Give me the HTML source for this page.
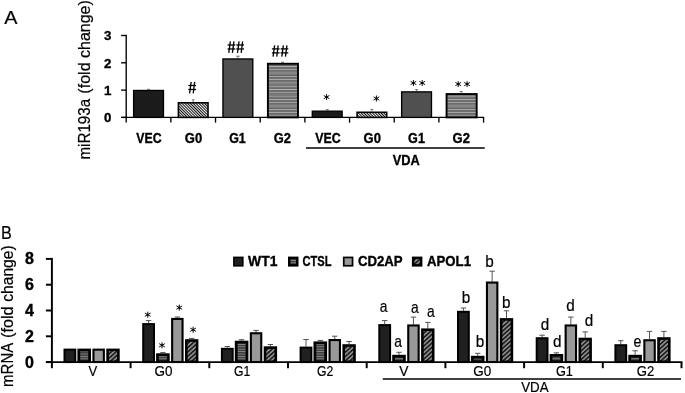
<!DOCTYPE html>
<html><head><meta charset="utf-8"><title>Figure</title>
<style>
html,body{margin:0;padding:0;background:#fff;}
svg{display:block;will-change:transform;}
text{font-family:"Liberation Sans",sans-serif;fill:#000;}
</style></head>
<body>
<svg width="685" height="393" viewBox="0 0 685 393">
<rect width="685" height="393" fill="#fff"/>
<defs>
<pattern id="pFine" width="2" height="2" patternUnits="userSpaceOnUse" patternTransform="rotate(45)"><rect width="2" height="2" fill="#fff"/><rect width="2" height="1.05" fill="#111"/></pattern>
<pattern id="pHA" width="3.3" height="3.3" patternUnits="userSpaceOnUse"><rect width="3.3" height="3.3" fill="#666"/><rect y="0" width="3.3" height="0.85" fill="#b4b4b4"/><rect y="1.7" width="3.3" height="0.6" fill="#828282"/></pattern>
<pattern id="pHB" width="2.4" height="2.4" patternUnits="userSpaceOnUse"><rect width="2.4" height="2.4" fill="#111"/><rect y="0.5" width="2.4" height="1.4" fill="#8a8a8a"/></pattern>
<pattern id="pDB" width="3.2" height="3.2" patternUnits="userSpaceOnUse" patternTransform="rotate(-42)"><rect width="3.2" height="3.2" fill="#151515"/><rect y="0.7" width="3.2" height="1.7" fill="#8c8c8c"/></pattern>
</defs>
<text x="4.30" y="24.00" font-size="18.6" stroke="#000" stroke-width="0.2" text-anchor="start" textLength="13.20" lengthAdjust="spacingAndGlyphs" >A</text>
<text transform="translate(90,159.50) rotate(-90)" font-size="16" stroke="#000" stroke-width="0.2" textLength="60.60" lengthAdjust="spacingAndGlyphs">miR193a</text>
<text transform="translate(90,93.70) rotate(-90)" font-size="16" stroke="#000" stroke-width="0.2" textLength="31.30" lengthAdjust="spacingAndGlyphs">(fold</text>
<text transform="translate(90,58.00) rotate(-90)" font-size="16" stroke="#000" stroke-width="0.2" textLength="57.80" lengthAdjust="spacingAndGlyphs">change)</text>
<line x1="126.20" y1="34.83" x2="126.20" y2="122.60" stroke="#000" stroke-width="1.35" stroke-linecap="butt"/>
<line x1="121.10" y1="117.40" x2="484.24" y2="117.40" stroke="#000" stroke-width="1.35" stroke-linecap="butt"/>
<line x1="121.10" y1="117.40" x2="126.20" y2="117.40" stroke="#000" stroke-width="1.35" stroke-linecap="butt"/>
<text x="111.30" y="122.10" font-size="13.3" font-weight="bold" stroke="#000" stroke-width="0.35" text-anchor="end" >0</text>
<line x1="121.10" y1="90.10" x2="126.20" y2="90.10" stroke="#000" stroke-width="1.35" stroke-linecap="butt"/>
<text x="111.30" y="94.80" font-size="13.3" font-weight="bold" stroke="#000" stroke-width="0.35" text-anchor="end" >1</text>
<line x1="121.10" y1="62.80" x2="126.20" y2="62.80" stroke="#000" stroke-width="1.35" stroke-linecap="butt"/>
<text x="111.30" y="67.50" font-size="13.3" font-weight="bold" stroke="#000" stroke-width="0.35" text-anchor="end" >2</text>
<line x1="121.10" y1="35.50" x2="126.20" y2="35.50" stroke="#000" stroke-width="1.35" stroke-linecap="butt"/>
<text x="111.30" y="40.20" font-size="13.3" font-weight="bold" stroke="#000" stroke-width="0.35" text-anchor="end" >3</text>
<line x1="170.87" y1="117.40" x2="170.87" y2="122.60" stroke="#000" stroke-width="1.35" stroke-linecap="butt"/>
<line x1="215.54" y1="117.40" x2="215.54" y2="122.60" stroke="#000" stroke-width="1.35" stroke-linecap="butt"/>
<line x1="260.21" y1="117.40" x2="260.21" y2="122.60" stroke="#000" stroke-width="1.35" stroke-linecap="butt"/>
<line x1="304.88" y1="117.40" x2="304.88" y2="122.60" stroke="#000" stroke-width="1.35" stroke-linecap="butt"/>
<line x1="349.55" y1="117.40" x2="349.55" y2="122.60" stroke="#000" stroke-width="1.35" stroke-linecap="butt"/>
<line x1="394.22" y1="117.40" x2="394.22" y2="122.60" stroke="#000" stroke-width="1.35" stroke-linecap="butt"/>
<line x1="438.89" y1="117.40" x2="438.89" y2="122.60" stroke="#000" stroke-width="1.35" stroke-linecap="butt"/>
<line x1="483.56" y1="117.40" x2="483.56" y2="122.60" stroke="#000" stroke-width="1.35" stroke-linecap="butt"/>
<line x1="148.53" y1="89.30" x2="148.53" y2="89.80" stroke="#6a6a6a" stroke-width="0.9" stroke-linecap="butt"/>
<line x1="147.03" y1="89.30" x2="150.03" y2="89.30" stroke="#6a6a6a" stroke-width="0.9" stroke-linecap="butt"/>
<rect x="133.61" y="90.47" width="29.85" height="26.93" fill="#1b1b1b" stroke="#000" stroke-width="1.35"/>
<line x1="193.20" y1="99.80" x2="193.20" y2="102.00" stroke="#6a6a6a" stroke-width="0.9" stroke-linecap="butt"/>
<line x1="191.90" y1="99.80" x2="194.50" y2="99.80" stroke="#6a6a6a" stroke-width="0.9" stroke-linecap="butt"/>
<rect x="178.38" y="102.78" width="29.65" height="14.63" fill="url(#pFine)" stroke="#000" stroke-width="1.55"/>
<line x1="237.88" y1="56.20" x2="237.88" y2="58.30" stroke="#6a6a6a" stroke-width="0.9" stroke-linecap="butt"/>
<line x1="236.07" y1="56.20" x2="239.68" y2="56.20" stroke="#6a6a6a" stroke-width="0.9" stroke-linecap="butt"/>
<rect x="222.95" y="58.97" width="29.85" height="58.43" fill="#505050" stroke="#000" stroke-width="1.35"/>
<line x1="282.55" y1="62.20" x2="282.55" y2="62.80" stroke="#6a6a6a" stroke-width="0.9" stroke-linecap="butt"/>
<line x1="281.05" y1="62.20" x2="284.05" y2="62.20" stroke="#6a6a6a" stroke-width="0.9" stroke-linecap="butt"/>
<rect x="267.89" y="63.75" width="30.10" height="53.65" fill="url(#pHA)" stroke="#000" stroke-width="1.9"/>
<line x1="327.22" y1="109.60" x2="327.22" y2="110.50" stroke="#6a6a6a" stroke-width="0.9" stroke-linecap="butt"/>
<line x1="325.72" y1="109.60" x2="328.72" y2="109.60" stroke="#6a6a6a" stroke-width="0.9" stroke-linecap="butt"/>
<rect x="312.29" y="111.17" width="29.85" height="6.23" fill="#1b1b1b" stroke="#000" stroke-width="1.35"/>
<line x1="371.88" y1="109.40" x2="371.88" y2="111.50" stroke="#6a6a6a" stroke-width="0.9" stroke-linecap="butt"/>
<line x1="370.38" y1="109.40" x2="373.38" y2="109.40" stroke="#6a6a6a" stroke-width="0.9" stroke-linecap="butt"/>
<rect x="357.06" y="112.28" width="29.65" height="5.13" fill="url(#pFine)" stroke="#000" stroke-width="1.55"/>
<line x1="416.56" y1="89.60" x2="416.56" y2="91.20" stroke="#6a6a6a" stroke-width="0.9" stroke-linecap="butt"/>
<line x1="415.06" y1="89.60" x2="418.06" y2="89.60" stroke="#6a6a6a" stroke-width="0.9" stroke-linecap="butt"/>
<rect x="401.63" y="91.88" width="29.85" height="25.53" fill="#505050" stroke="#000" stroke-width="1.35"/>
<line x1="461.23" y1="91.50" x2="461.23" y2="93.10" stroke="#6a6a6a" stroke-width="0.9" stroke-linecap="butt"/>
<line x1="459.73" y1="91.50" x2="462.73" y2="91.50" stroke="#6a6a6a" stroke-width="0.9" stroke-linecap="butt"/>
<rect x="446.57" y="94.05" width="30.10" height="23.35" fill="url(#pHA)" stroke="#000" stroke-width="1.9"/>
<text x="136.30" y="142.50" font-size="14" font-weight="bold" stroke="#000" stroke-width="0.35" text-anchor="start" textLength="25.20" lengthAdjust="spacingAndGlyphs" >VEC</text>
<text x="184.80" y="142.50" font-size="14" font-weight="bold" stroke="#000" stroke-width="0.35" text-anchor="start" textLength="17.40" lengthAdjust="spacingAndGlyphs" >G0</text>
<text x="229.20" y="142.50" font-size="14" font-weight="bold" stroke="#000" stroke-width="0.35" text-anchor="start" textLength="16.60" lengthAdjust="spacingAndGlyphs" >G1</text>
<text x="273.70" y="142.50" font-size="14" font-weight="bold" stroke="#000" stroke-width="0.35" text-anchor="start" textLength="17.20" lengthAdjust="spacingAndGlyphs" >G2</text>
<text x="315.20" y="142.50" font-size="14" font-weight="bold" stroke="#000" stroke-width="0.35" text-anchor="start" textLength="25.40" lengthAdjust="spacingAndGlyphs" >VEC</text>
<text x="363.60" y="142.50" font-size="14" font-weight="bold" stroke="#000" stroke-width="0.35" text-anchor="start" textLength="17.40" lengthAdjust="spacingAndGlyphs" >G0</text>
<text x="408.10" y="142.50" font-size="14" font-weight="bold" stroke="#000" stroke-width="0.35" text-anchor="start" textLength="16.80" lengthAdjust="spacingAndGlyphs" >G1</text>
<text x="452.50" y="142.50" font-size="14" font-weight="bold" stroke="#000" stroke-width="0.35" text-anchor="start" textLength="17.40" lengthAdjust="spacingAndGlyphs" >G2</text>
<line x1="306.00" y1="148.10" x2="484.70" y2="148.10" stroke="#000" stroke-width="1.5" stroke-linecap="butt"/>
<text x="392.70" y="165.10" font-size="14" font-weight="bold" stroke="#000" stroke-width="0.35" text-anchor="start" textLength="27.00" lengthAdjust="spacingAndGlyphs" >VDA</text>
<line x1="188.40" y1="85.49" x2="196.10" y2="85.49" stroke="#000" stroke-width="1.3" stroke-linecap="butt"/>
<line x1="188.40" y1="89.48" x2="196.10" y2="89.48" stroke="#000" stroke-width="1.3" stroke-linecap="butt"/>
<line x1="191.15" y1="81.90" x2="189.60" y2="93.30" stroke="#000" stroke-width="1.3" stroke-linecap="butt"/>
<line x1="194.70" y1="81.90" x2="193.25" y2="93.30" stroke="#000" stroke-width="1.3" stroke-linecap="butt"/>
<line x1="227.60" y1="44.99" x2="235.30" y2="44.99" stroke="#000" stroke-width="1.3" stroke-linecap="butt"/>
<line x1="227.60" y1="48.98" x2="235.30" y2="48.98" stroke="#000" stroke-width="1.3" stroke-linecap="butt"/>
<line x1="230.35" y1="41.40" x2="228.80" y2="52.80" stroke="#000" stroke-width="1.3" stroke-linecap="butt"/>
<line x1="233.90" y1="41.40" x2="232.45" y2="52.80" stroke="#000" stroke-width="1.3" stroke-linecap="butt"/>
<line x1="236.30" y1="44.99" x2="244.00" y2="44.99" stroke="#000" stroke-width="1.3" stroke-linecap="butt"/>
<line x1="236.30" y1="48.98" x2="244.00" y2="48.98" stroke="#000" stroke-width="1.3" stroke-linecap="butt"/>
<line x1="239.05" y1="41.40" x2="237.50" y2="52.80" stroke="#000" stroke-width="1.3" stroke-linecap="butt"/>
<line x1="242.60" y1="41.40" x2="241.15" y2="52.80" stroke="#000" stroke-width="1.3" stroke-linecap="butt"/>
<line x1="271.90" y1="48.89" x2="279.60" y2="48.89" stroke="#000" stroke-width="1.3" stroke-linecap="butt"/>
<line x1="271.90" y1="52.88" x2="279.60" y2="52.88" stroke="#000" stroke-width="1.3" stroke-linecap="butt"/>
<line x1="274.65" y1="45.30" x2="273.10" y2="56.70" stroke="#000" stroke-width="1.3" stroke-linecap="butt"/>
<line x1="278.20" y1="45.30" x2="276.75" y2="56.70" stroke="#000" stroke-width="1.3" stroke-linecap="butt"/>
<line x1="280.60" y1="48.89" x2="288.30" y2="48.89" stroke="#000" stroke-width="1.3" stroke-linecap="butt"/>
<line x1="280.60" y1="52.88" x2="288.30" y2="52.88" stroke="#000" stroke-width="1.3" stroke-linecap="butt"/>
<line x1="283.35" y1="45.30" x2="281.80" y2="56.70" stroke="#000" stroke-width="1.3" stroke-linecap="butt"/>
<line x1="286.90" y1="45.30" x2="285.45" y2="56.70" stroke="#000" stroke-width="1.3" stroke-linecap="butt"/>
<line x1="326.60" y1="94.49" x2="326.60" y2="99.71" stroke="#000" stroke-width="0.95" stroke-linecap="round"/>
<line x1="324.09" y1="95.65" x2="329.11" y2="98.55" stroke="#000" stroke-width="0.95" stroke-linecap="round"/>
<line x1="329.11" y1="95.65" x2="324.09" y2="98.55" stroke="#000" stroke-width="0.95" stroke-linecap="round"/>
<circle cx="326.60" cy="97.10" r="1.05" fill="#000"/>
<line x1="376.40" y1="95.89" x2="376.40" y2="101.11" stroke="#000" stroke-width="0.95" stroke-linecap="round"/>
<line x1="373.89" y1="97.05" x2="378.91" y2="99.95" stroke="#000" stroke-width="0.95" stroke-linecap="round"/>
<line x1="378.91" y1="97.05" x2="373.89" y2="99.95" stroke="#000" stroke-width="0.95" stroke-linecap="round"/>
<circle cx="376.40" cy="98.50" r="1.05" fill="#000"/>
<line x1="413.40" y1="80.39" x2="413.40" y2="85.61" stroke="#000" stroke-width="0.95" stroke-linecap="round"/>
<line x1="410.89" y1="81.55" x2="415.91" y2="84.45" stroke="#000" stroke-width="0.95" stroke-linecap="round"/>
<line x1="415.91" y1="81.55" x2="410.89" y2="84.45" stroke="#000" stroke-width="0.95" stroke-linecap="round"/>
<circle cx="413.40" cy="83.00" r="1.05" fill="#000"/>
<line x1="422.20" y1="80.39" x2="422.20" y2="85.61" stroke="#000" stroke-width="0.95" stroke-linecap="round"/>
<line x1="419.69" y1="81.55" x2="424.71" y2="84.45" stroke="#000" stroke-width="0.95" stroke-linecap="round"/>
<line x1="424.71" y1="81.55" x2="419.69" y2="84.45" stroke="#000" stroke-width="0.95" stroke-linecap="round"/>
<circle cx="422.20" cy="83.00" r="1.05" fill="#000"/>
<line x1="458.20" y1="81.49" x2="458.20" y2="86.71" stroke="#000" stroke-width="0.95" stroke-linecap="round"/>
<line x1="455.69" y1="82.65" x2="460.71" y2="85.55" stroke="#000" stroke-width="0.95" stroke-linecap="round"/>
<line x1="460.71" y1="82.65" x2="455.69" y2="85.55" stroke="#000" stroke-width="0.95" stroke-linecap="round"/>
<circle cx="458.20" cy="84.10" r="1.05" fill="#000"/>
<line x1="467.10" y1="81.49" x2="467.10" y2="86.71" stroke="#000" stroke-width="0.95" stroke-linecap="round"/>
<line x1="464.59" y1="82.65" x2="469.61" y2="85.55" stroke="#000" stroke-width="0.95" stroke-linecap="round"/>
<line x1="469.61" y1="82.65" x2="464.59" y2="85.55" stroke="#000" stroke-width="0.95" stroke-linecap="round"/>
<circle cx="467.10" cy="84.10" r="1.05" fill="#000"/>
<text x="1.00" y="239.30" font-size="18" stroke="#000" stroke-width="0.2" text-anchor="start" textLength="10.80" lengthAdjust="spacingAndGlyphs" >B</text>
<text transform="translate(13.1,386.90) rotate(-90)" font-size="15.6" stroke="#000" stroke-width="0.2" textLength="44.10" lengthAdjust="spacingAndGlyphs">mRNA</text>
<text transform="translate(13.1,338.00) rotate(-90)" font-size="15.6" stroke="#000" stroke-width="0.2" textLength="31.60" lengthAdjust="spacingAndGlyphs">(fold</text>
<text transform="translate(13.1,301.80) rotate(-90)" font-size="15.6" stroke="#000" stroke-width="0.2" textLength="56.50" lengthAdjust="spacingAndGlyphs">change)</text>
<line x1="51.90" y1="257.93" x2="51.90" y2="368.20" stroke="#000" stroke-width="1.95" stroke-linecap="butt"/>
<line x1="45.90" y1="362.10" x2="682.48" y2="362.10" stroke="#000" stroke-width="1.95" stroke-linecap="butt"/>
<line x1="45.90" y1="362.10" x2="51.90" y2="362.10" stroke="#000" stroke-width="1.95" stroke-linecap="butt"/>
<text x="33.80" y="367.60" font-size="16" font-weight="bold" stroke="#000" stroke-width="0.35" text-anchor="end" >0</text>
<line x1="45.90" y1="336.30" x2="51.90" y2="336.30" stroke="#000" stroke-width="1.95" stroke-linecap="butt"/>
<text x="33.80" y="341.80" font-size="16" font-weight="bold" stroke="#000" stroke-width="0.35" text-anchor="end" >2</text>
<line x1="45.90" y1="310.50" x2="51.90" y2="310.50" stroke="#000" stroke-width="1.95" stroke-linecap="butt"/>
<text x="33.80" y="316.00" font-size="16" font-weight="bold" stroke="#000" stroke-width="0.35" text-anchor="end" >4</text>
<line x1="45.90" y1="284.70" x2="51.90" y2="284.70" stroke="#000" stroke-width="1.95" stroke-linecap="butt"/>
<text x="33.80" y="290.20" font-size="16" font-weight="bold" stroke="#000" stroke-width="0.35" text-anchor="end" >6</text>
<line x1="45.90" y1="258.90" x2="51.90" y2="258.90" stroke="#000" stroke-width="1.95" stroke-linecap="butt"/>
<text x="33.80" y="264.40" font-size="16" font-weight="bold" stroke="#000" stroke-width="0.35" text-anchor="end" >8</text>
<line x1="130.60" y1="362.10" x2="130.60" y2="368.20" stroke="#000" stroke-width="1.95" stroke-linecap="butt"/>
<line x1="209.30" y1="362.10" x2="209.30" y2="368.20" stroke="#000" stroke-width="1.95" stroke-linecap="butt"/>
<line x1="288.00" y1="362.10" x2="288.00" y2="368.20" stroke="#000" stroke-width="1.95" stroke-linecap="butt"/>
<line x1="366.70" y1="362.10" x2="366.70" y2="368.20" stroke="#000" stroke-width="1.95" stroke-linecap="butt"/>
<line x1="445.40" y1="362.10" x2="445.40" y2="368.20" stroke="#000" stroke-width="1.95" stroke-linecap="butt"/>
<line x1="524.10" y1="362.10" x2="524.10" y2="368.20" stroke="#000" stroke-width="1.95" stroke-linecap="butt"/>
<line x1="602.80" y1="362.10" x2="602.80" y2="368.20" stroke="#000" stroke-width="1.95" stroke-linecap="butt"/>
<line x1="681.50" y1="362.10" x2="681.50" y2="368.20" stroke="#000" stroke-width="1.95" stroke-linecap="butt"/>
<rect x="64.50" y="349.60" width="10.80" height="12.48" fill="#202020" stroke="#000" stroke-width="2.0"/>
<rect x="78.80" y="350.00" width="10.80" height="11.68" fill="url(#pHB)" stroke="#000" stroke-width="2.8"/>
<rect x="93.45" y="349.65" width="10.40" height="12.38" fill="#999999" stroke="#000" stroke-width="2.1"/>
<rect x="107.60" y="349.90" width="10.80" height="11.88" fill="url(#pDB)" stroke="#000" stroke-width="2.6"/>
<line x1="148.60" y1="320.60" x2="148.60" y2="323.10" stroke="#4c4c4c" stroke-width="0.95" stroke-linecap="butt"/>
<line x1="145.90" y1="320.60" x2="151.30" y2="320.60" stroke="#4c4c4c" stroke-width="0.95" stroke-linecap="butt"/>
<rect x="143.20" y="324.10" width="10.80" height="37.98" fill="#202020" stroke="#000" stroke-width="2.0"/>
<line x1="162.90" y1="352.60" x2="162.90" y2="353.30" stroke="#4c4c4c" stroke-width="0.95" stroke-linecap="butt"/>
<line x1="160.20" y1="352.60" x2="165.60" y2="352.60" stroke="#4c4c4c" stroke-width="0.95" stroke-linecap="butt"/>
<rect x="157.50" y="354.70" width="10.80" height="6.98" fill="url(#pHB)" stroke="#000" stroke-width="2.8"/>
<line x1="177.35" y1="317.00" x2="177.35" y2="317.90" stroke="#4c4c4c" stroke-width="0.95" stroke-linecap="butt"/>
<line x1="174.65" y1="317.00" x2="180.05" y2="317.00" stroke="#4c4c4c" stroke-width="0.95" stroke-linecap="butt"/>
<rect x="172.15" y="318.95" width="10.40" height="43.08" fill="#999999" stroke="#000" stroke-width="2.1"/>
<line x1="191.70" y1="338.40" x2="191.70" y2="339.20" stroke="#4c4c4c" stroke-width="0.95" stroke-linecap="butt"/>
<line x1="189.00" y1="338.40" x2="194.40" y2="338.40" stroke="#4c4c4c" stroke-width="0.95" stroke-linecap="butt"/>
<rect x="186.30" y="340.50" width="10.80" height="21.28" fill="url(#pDB)" stroke="#000" stroke-width="2.6"/>
<line x1="227.30" y1="346.50" x2="227.30" y2="347.80" stroke="#4c4c4c" stroke-width="0.95" stroke-linecap="butt"/>
<line x1="224.60" y1="346.50" x2="230.00" y2="346.50" stroke="#4c4c4c" stroke-width="0.95" stroke-linecap="butt"/>
<rect x="221.90" y="348.80" width="10.80" height="13.28" fill="#202020" stroke="#000" stroke-width="2.0"/>
<line x1="241.60" y1="339.70" x2="241.60" y2="340.70" stroke="#4c4c4c" stroke-width="0.95" stroke-linecap="butt"/>
<line x1="238.90" y1="339.70" x2="244.30" y2="339.70" stroke="#4c4c4c" stroke-width="0.95" stroke-linecap="butt"/>
<rect x="236.20" y="342.10" width="10.80" height="19.58" fill="url(#pHB)" stroke="#000" stroke-width="2.8"/>
<line x1="256.05" y1="330.40" x2="256.05" y2="332.20" stroke="#4c4c4c" stroke-width="0.95" stroke-linecap="butt"/>
<line x1="253.35" y1="330.40" x2="258.75" y2="330.40" stroke="#4c4c4c" stroke-width="0.95" stroke-linecap="butt"/>
<rect x="250.85" y="333.25" width="10.40" height="28.78" fill="#999999" stroke="#000" stroke-width="2.1"/>
<line x1="270.40" y1="344.50" x2="270.40" y2="346.30" stroke="#4c4c4c" stroke-width="0.95" stroke-linecap="butt"/>
<line x1="267.70" y1="344.50" x2="273.10" y2="344.50" stroke="#4c4c4c" stroke-width="0.95" stroke-linecap="butt"/>
<rect x="265.00" y="347.60" width="10.80" height="14.18" fill="url(#pDB)" stroke="#000" stroke-width="2.6"/>
<line x1="306.00" y1="339.50" x2="306.00" y2="346.60" stroke="#4c4c4c" stroke-width="0.95" stroke-linecap="butt"/>
<line x1="303.30" y1="339.50" x2="308.70" y2="339.50" stroke="#4c4c4c" stroke-width="0.95" stroke-linecap="butt"/>
<rect x="300.60" y="347.60" width="10.80" height="14.48" fill="#202020" stroke="#000" stroke-width="2.0"/>
<line x1="320.30" y1="340.40" x2="320.30" y2="341.40" stroke="#4c4c4c" stroke-width="0.95" stroke-linecap="butt"/>
<line x1="317.60" y1="340.40" x2="323.00" y2="340.40" stroke="#4c4c4c" stroke-width="0.95" stroke-linecap="butt"/>
<rect x="314.90" y="342.80" width="10.80" height="18.88" fill="url(#pHB)" stroke="#000" stroke-width="2.8"/>
<line x1="334.75" y1="336.20" x2="334.75" y2="339.00" stroke="#4c4c4c" stroke-width="0.95" stroke-linecap="butt"/>
<line x1="332.05" y1="336.20" x2="337.45" y2="336.20" stroke="#4c4c4c" stroke-width="0.95" stroke-linecap="butt"/>
<rect x="329.55" y="340.05" width="10.40" height="21.98" fill="#999999" stroke="#000" stroke-width="2.1"/>
<line x1="349.10" y1="341.50" x2="349.10" y2="344.20" stroke="#4c4c4c" stroke-width="0.95" stroke-linecap="butt"/>
<line x1="346.40" y1="341.50" x2="351.80" y2="341.50" stroke="#4c4c4c" stroke-width="0.95" stroke-linecap="butt"/>
<rect x="343.70" y="345.50" width="10.80" height="16.28" fill="url(#pDB)" stroke="#000" stroke-width="2.6"/>
<line x1="384.70" y1="320.60" x2="384.70" y2="324.10" stroke="#4c4c4c" stroke-width="0.95" stroke-linecap="butt"/>
<line x1="382.00" y1="320.60" x2="387.40" y2="320.60" stroke="#4c4c4c" stroke-width="0.95" stroke-linecap="butt"/>
<rect x="379.30" y="325.10" width="10.80" height="36.98" fill="#202020" stroke="#000" stroke-width="2.0"/>
<line x1="399.00" y1="352.30" x2="399.00" y2="354.80" stroke="#4c4c4c" stroke-width="0.95" stroke-linecap="butt"/>
<line x1="396.30" y1="352.30" x2="401.70" y2="352.30" stroke="#4c4c4c" stroke-width="0.95" stroke-linecap="butt"/>
<rect x="393.60" y="356.20" width="10.80" height="5.48" fill="url(#pHB)" stroke="#000" stroke-width="2.8"/>
<line x1="413.45" y1="317.10" x2="413.45" y2="324.40" stroke="#4c4c4c" stroke-width="0.95" stroke-linecap="butt"/>
<line x1="410.75" y1="317.10" x2="416.15" y2="317.10" stroke="#4c4c4c" stroke-width="0.95" stroke-linecap="butt"/>
<rect x="408.25" y="325.45" width="10.40" height="36.58" fill="#999999" stroke="#000" stroke-width="2.1"/>
<line x1="427.80" y1="322.40" x2="427.80" y2="328.40" stroke="#4c4c4c" stroke-width="0.95" stroke-linecap="butt"/>
<line x1="425.10" y1="322.40" x2="430.50" y2="322.40" stroke="#4c4c4c" stroke-width="0.95" stroke-linecap="butt"/>
<rect x="422.40" y="329.70" width="10.80" height="32.08" fill="url(#pDB)" stroke="#000" stroke-width="2.6"/>
<line x1="463.40" y1="308.00" x2="463.40" y2="310.80" stroke="#4c4c4c" stroke-width="0.95" stroke-linecap="butt"/>
<line x1="460.70" y1="308.00" x2="466.10" y2="308.00" stroke="#4c4c4c" stroke-width="0.95" stroke-linecap="butt"/>
<rect x="458.00" y="311.80" width="10.80" height="50.28" fill="#202020" stroke="#000" stroke-width="2.0"/>
<line x1="477.70" y1="353.30" x2="477.70" y2="355.80" stroke="#4c4c4c" stroke-width="0.95" stroke-linecap="butt"/>
<line x1="475.00" y1="353.30" x2="480.40" y2="353.30" stroke="#4c4c4c" stroke-width="0.95" stroke-linecap="butt"/>
<rect x="472.30" y="357.20" width="10.80" height="4.48" fill="url(#pHB)" stroke="#000" stroke-width="2.8"/>
<line x1="492.15" y1="271.20" x2="492.15" y2="281.50" stroke="#4c4c4c" stroke-width="0.95" stroke-linecap="butt"/>
<line x1="489.45" y1="271.20" x2="494.85" y2="271.20" stroke="#4c4c4c" stroke-width="0.95" stroke-linecap="butt"/>
<rect x="486.95" y="282.55" width="10.40" height="79.48" fill="#999999" stroke="#000" stroke-width="2.1"/>
<line x1="506.50" y1="310.80" x2="506.50" y2="318.10" stroke="#4c4c4c" stroke-width="0.95" stroke-linecap="butt"/>
<line x1="503.80" y1="310.80" x2="509.20" y2="310.80" stroke="#4c4c4c" stroke-width="0.95" stroke-linecap="butt"/>
<rect x="501.10" y="319.40" width="10.80" height="42.38" fill="url(#pDB)" stroke="#000" stroke-width="2.6"/>
<line x1="542.10" y1="335.20" x2="542.10" y2="337.20" stroke="#4c4c4c" stroke-width="0.95" stroke-linecap="butt"/>
<line x1="539.40" y1="335.20" x2="544.80" y2="335.20" stroke="#4c4c4c" stroke-width="0.95" stroke-linecap="butt"/>
<rect x="536.70" y="338.20" width="10.80" height="23.88" fill="#202020" stroke="#000" stroke-width="2.0"/>
<line x1="556.40" y1="352.80" x2="556.40" y2="354.00" stroke="#4c4c4c" stroke-width="0.95" stroke-linecap="butt"/>
<line x1="553.70" y1="352.80" x2="559.10" y2="352.80" stroke="#4c4c4c" stroke-width="0.95" stroke-linecap="butt"/>
<rect x="551.00" y="355.40" width="10.80" height="6.28" fill="url(#pHB)" stroke="#000" stroke-width="2.8"/>
<line x1="570.85" y1="317.10" x2="570.85" y2="324.40" stroke="#4c4c4c" stroke-width="0.95" stroke-linecap="butt"/>
<line x1="568.15" y1="317.10" x2="573.55" y2="317.10" stroke="#4c4c4c" stroke-width="0.95" stroke-linecap="butt"/>
<rect x="565.65" y="325.45" width="10.40" height="36.58" fill="#999999" stroke="#000" stroke-width="2.1"/>
<line x1="585.20" y1="331.90" x2="585.20" y2="337.70" stroke="#4c4c4c" stroke-width="0.95" stroke-linecap="butt"/>
<line x1="582.50" y1="331.90" x2="587.90" y2="331.90" stroke="#4c4c4c" stroke-width="0.95" stroke-linecap="butt"/>
<rect x="579.80" y="339.00" width="10.80" height="22.78" fill="url(#pDB)" stroke="#000" stroke-width="2.6"/>
<line x1="620.80" y1="340.70" x2="620.80" y2="344.20" stroke="#4c4c4c" stroke-width="0.95" stroke-linecap="butt"/>
<line x1="618.10" y1="340.70" x2="623.50" y2="340.70" stroke="#4c4c4c" stroke-width="0.95" stroke-linecap="butt"/>
<rect x="615.40" y="345.20" width="10.80" height="16.88" fill="#202020" stroke="#000" stroke-width="2.0"/>
<line x1="635.10" y1="350.80" x2="635.10" y2="354.80" stroke="#4c4c4c" stroke-width="0.95" stroke-linecap="butt"/>
<line x1="632.40" y1="350.80" x2="637.80" y2="350.80" stroke="#4c4c4c" stroke-width="0.95" stroke-linecap="butt"/>
<rect x="629.70" y="356.20" width="10.80" height="5.48" fill="url(#pHB)" stroke="#000" stroke-width="2.8"/>
<line x1="649.55" y1="331.40" x2="649.55" y2="339.20" stroke="#4c4c4c" stroke-width="0.95" stroke-linecap="butt"/>
<line x1="646.85" y1="331.40" x2="652.25" y2="331.40" stroke="#4c4c4c" stroke-width="0.95" stroke-linecap="butt"/>
<rect x="644.35" y="340.25" width="10.40" height="21.78" fill="#999999" stroke="#000" stroke-width="2.1"/>
<line x1="663.90" y1="331.40" x2="663.90" y2="337.20" stroke="#4c4c4c" stroke-width="0.95" stroke-linecap="butt"/>
<line x1="661.20" y1="331.40" x2="666.60" y2="331.40" stroke="#4c4c4c" stroke-width="0.95" stroke-linecap="butt"/>
<rect x="658.50" y="338.50" width="10.80" height="23.28" fill="url(#pDB)" stroke="#000" stroke-width="2.6"/>
<text x="88.50" y="375.60" font-size="14.2" stroke="#000" stroke-width="0.2" text-anchor="start" textLength="8.70" lengthAdjust="spacingAndGlyphs" >V</text>
<text x="154.50" y="375.60" font-size="14.2" stroke="#000" stroke-width="0.2" text-anchor="start" textLength="18.00" lengthAdjust="spacingAndGlyphs" >G0</text>
<text x="234.10" y="375.60" font-size="14.2" stroke="#000" stroke-width="0.2" text-anchor="start" textLength="16.30" lengthAdjust="spacingAndGlyphs" >G1</text>
<text x="317.00" y="375.60" font-size="14.2" stroke="#000" stroke-width="0.2" text-anchor="start" textLength="16.30" lengthAdjust="spacingAndGlyphs" >G2</text>
<text x="399.20" y="375.60" font-size="14.2" stroke="#000" stroke-width="0.2" text-anchor="start" textLength="9.20" lengthAdjust="spacingAndGlyphs" >V</text>
<text x="473.30" y="375.60" font-size="14.2" stroke="#000" stroke-width="0.2" text-anchor="start" textLength="18.00" lengthAdjust="spacingAndGlyphs" >G0</text>
<text x="555.90" y="375.60" font-size="14.2" stroke="#000" stroke-width="0.2" text-anchor="start" textLength="17.00" lengthAdjust="spacingAndGlyphs" >G1</text>
<text x="636.70" y="375.60" font-size="14.2" stroke="#000" stroke-width="0.2" text-anchor="start" textLength="17.50" lengthAdjust="spacingAndGlyphs" >G2</text>
<line x1="382.80" y1="379.00" x2="681.00" y2="379.00" stroke="#000" stroke-width="1.6" stroke-linecap="butt"/>
<text x="521.20" y="392.30" font-size="14.2" stroke="#000" stroke-width="0.2" text-anchor="start" textLength="27.40" lengthAdjust="spacingAndGlyphs" >VDA</text>
<rect x="233.90" y="257.40" width="8.90" height="8.40" fill="#202020" stroke="#000" stroke-width="1.6"/>
<rect x="289.25" y="257.85" width="8.00" height="7.50" fill="url(#pHB)" stroke="#000" stroke-width="2.5"/>
<rect x="343.75" y="257.45" width="8.80" height="8.30" fill="#999999" stroke="#000" stroke-width="1.7"/>
<rect x="413.15" y="257.85" width="8.00" height="7.50" fill="url(#pDB)" stroke="#000" stroke-width="2.5"/>
<text x="248.10" y="266.00" font-size="14.2" font-weight="bold" stroke="#000" stroke-width="0.35" text-anchor="start" textLength="29.30" lengthAdjust="spacingAndGlyphs" >WT1</text>
<text x="302.50" y="266.00" font-size="14.2" font-weight="bold" stroke="#000" stroke-width="0.35" text-anchor="start" textLength="28.90" lengthAdjust="spacingAndGlyphs" >CTSL</text>
<text x="357.90" y="266.00" font-size="14.2" font-weight="bold" stroke="#000" stroke-width="0.35" text-anchor="start" textLength="44.70" lengthAdjust="spacingAndGlyphs" >CD2AP</text>
<text x="427.00" y="266.00" font-size="14.2" font-weight="bold" stroke="#000" stroke-width="0.35" text-anchor="start" textLength="44.00" lengthAdjust="spacingAndGlyphs" >APOL1</text>
<text x="383.70" y="311.50" font-size="16.2" stroke="#000" stroke-width="0.2" text-anchor="middle" textLength="7.70" lengthAdjust="spacingAndGlyphs" >a</text>
<text x="398.15" y="347.20" font-size="16.2" stroke="#000" stroke-width="0.2" text-anchor="middle" textLength="7.70" lengthAdjust="spacingAndGlyphs" >a</text>
<text x="414.75" y="312.70" font-size="16.2" stroke="#000" stroke-width="0.2" text-anchor="middle" textLength="7.70" lengthAdjust="spacingAndGlyphs" >a</text>
<text x="430.95" y="317.10" font-size="16.2" stroke="#000" stroke-width="0.2" text-anchor="middle" textLength="7.70" lengthAdjust="spacingAndGlyphs" >a</text>
<text x="465.95" y="303.30" font-size="16.3" stroke="#000" stroke-width="0.2" text-anchor="middle" textLength="8.50" lengthAdjust="spacingAndGlyphs" >b</text>
<text x="479.90" y="346.50" font-size="16.3" stroke="#000" stroke-width="0.2" text-anchor="middle" textLength="8.50" lengthAdjust="spacingAndGlyphs" >b</text>
<text x="489.40" y="266.50" font-size="16.3" stroke="#000" stroke-width="0.2" text-anchor="middle" textLength="8.50" lengthAdjust="spacingAndGlyphs" >b</text>
<text x="506.15" y="307.80" font-size="16.3" stroke="#000" stroke-width="0.2" text-anchor="middle" textLength="8.50" lengthAdjust="spacingAndGlyphs" >b</text>
<text x="544.95" y="330.20" font-size="16.3" stroke="#000" stroke-width="0.2" text-anchor="middle" textLength="8.50" lengthAdjust="spacingAndGlyphs" >d</text>
<text x="557.15" y="347.00" font-size="16.3" stroke="#000" stroke-width="0.2" text-anchor="middle" textLength="8.50" lengthAdjust="spacingAndGlyphs" >d</text>
<text x="570.50" y="311.30" font-size="16.3" stroke="#000" stroke-width="0.2" text-anchor="middle" textLength="8.50" lengthAdjust="spacingAndGlyphs" >d</text>
<text x="588.95" y="325.70" font-size="16.3" stroke="#000" stroke-width="0.2" text-anchor="middle" textLength="8.50" lengthAdjust="spacingAndGlyphs" >d</text>
<text x="637.35" y="347.40" font-size="16.2" stroke="#000" stroke-width="0.2" text-anchor="middle" textLength="7.90" lengthAdjust="spacingAndGlyphs" >e</text>
<line x1="147.75" y1="312.05" x2="147.75" y2="317.35" stroke="#000" stroke-width="0.95" stroke-linecap="round"/>
<line x1="145.20" y1="313.22" x2="150.30" y2="316.18" stroke="#000" stroke-width="0.95" stroke-linecap="round"/>
<line x1="150.30" y1="313.22" x2="145.20" y2="316.18" stroke="#000" stroke-width="0.95" stroke-linecap="round"/>
<circle cx="147.75" cy="314.70" r="1.05" fill="#000"/>
<line x1="162.00" y1="342.65" x2="162.00" y2="347.95" stroke="#000" stroke-width="0.95" stroke-linecap="round"/>
<line x1="159.45" y1="343.82" x2="164.55" y2="346.78" stroke="#000" stroke-width="0.95" stroke-linecap="round"/>
<line x1="164.55" y1="343.82" x2="159.45" y2="346.78" stroke="#000" stroke-width="0.95" stroke-linecap="round"/>
<circle cx="162.00" cy="345.30" r="1.05" fill="#000"/>
<line x1="179.25" y1="304.94" x2="179.25" y2="310.25" stroke="#000" stroke-width="0.95" stroke-linecap="round"/>
<line x1="176.70" y1="306.12" x2="181.80" y2="309.07" stroke="#000" stroke-width="0.95" stroke-linecap="round"/>
<line x1="181.80" y1="306.12" x2="176.70" y2="309.07" stroke="#000" stroke-width="0.95" stroke-linecap="round"/>
<circle cx="179.25" cy="307.60" r="1.05" fill="#000"/>
<line x1="193.10" y1="327.05" x2="193.10" y2="332.35" stroke="#000" stroke-width="0.95" stroke-linecap="round"/>
<line x1="190.55" y1="328.22" x2="195.65" y2="331.18" stroke="#000" stroke-width="0.95" stroke-linecap="round"/>
<line x1="195.65" y1="328.22" x2="190.55" y2="331.18" stroke="#000" stroke-width="0.95" stroke-linecap="round"/>
<circle cx="193.10" cy="329.70" r="1.05" fill="#000"/>
</svg>
</body></html>
